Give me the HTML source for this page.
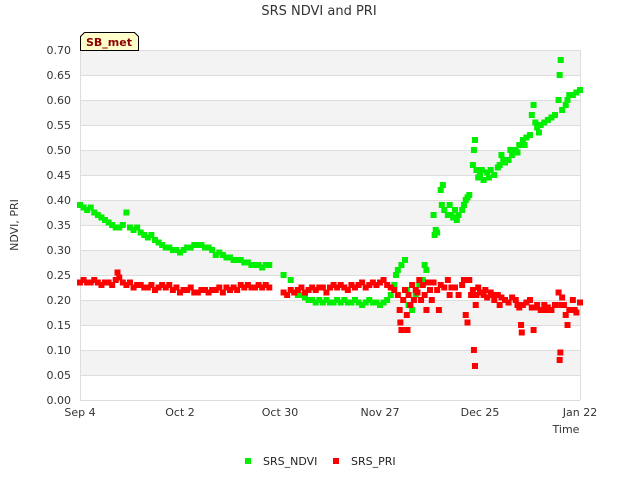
<!DOCTYPE html>
<html><head><meta charset="utf-8"><style>
html,body{margin:0;padding:0;background:#fff;}
svg{display:block;font-family:"DejaVu Sans","Liberation Sans",sans-serif;}
</style></head><body>
<svg id="chart" width="640" height="480" viewBox="0 0 640 480">
<text x="319" y="15" text-anchor="middle" font-size="13" fill="#333">SRS NDVI and PRI</text>
<g id="grid"></g>
<g id="yaxis"></g>
<g id="xaxis"></g>
<text transform="translate(18,225) rotate(-90)" text-anchor="middle" font-size="11" fill="#333">NDVI, PRI</text>
<text x="566" y="433" text-anchor="middle" font-size="11" fill="#333">Time</text>
<g id="ndvi" fill="#00ee00"></g>
<g id="pri" fill="#ff0000"></g>
<g>
<path d="M80.5,50.5 L80.5,36.5 L84.5,32.5 L134.5,32.5 L138.5,36.5 L138.5,50.5 Z" fill="#ffffcc" stroke="#000" stroke-width="1"/>
<text x="109" y="46" text-anchor="middle" font-size="11" font-weight="bold" fill="#8b0000">SB_met</text>
</g>
<g>
<rect x="245" y="458" width="6" height="6" fill="#00ee00"/>
<text x="263" y="465" font-size="11" fill="#222">SRS_NDVI</text>
</g>
<g>
<rect x="333" y="458" width="6" height="6" fill="#ff0000"/>
<text x="351" y="465" font-size="11" fill="#222">SRS_PRI</text>
</g>
</svg>
<script>
const yTicks = [0,0.05,0.1,0.15,0.2,0.25,0.3,0.35,0.4,0.45,0.5,0.55,0.6,0.65,0.7];
const xTickDays = [0,28,56,84,112,140];
const xTickLabels = ["Sep 4","Oct 2","Oct 30","Nov 27","Dec 25","Jan 22"];
const ndviDays = [0,1,2,3,4,5,6,7,8,9,10,11,12,13,14,15,16,17,18,19,20,21,22,23,24,25,26,27,28,29,30,31,32,33,34,35,36,37,38,39,40,41,42,43,44,45,46,47,48,49,50,51,52,53,
57,59,60,61,62,63,64,65,66,67,68,69,70,71,72,73,74,75,76,77,78,79,80,81,82,83,84,85,86,
87,88,88.5,89,90,91,91.5,92,93,94,95,96,96.5,97,
99,99.3,99.6,100,101,101.3,101.6,102,103,103.5,104,104.5,105,105.5,106,107,107.5,108,108.5,109,110,110.3,110.6,111,111.5,112,112.5,113,114,114.5,115,116,117,117.5,118,118.5,119,120,120.5,121,122,122.5,123,124,124.5,125,126,126.5,127,127.5,128,128.5,129,130,131,132,133,134,134.3,134.6,135,136,136.5,137,138,139,140];
const ndviValues = [.39,.385,.38,.385,.375,.37,.365,.36,.355,.35,.345,.345,.35,.375,.345,.34,.345,.335,.33,.325,.33,.32,.315,.31,.305,.305,.30,.30,.295,.30,.305,.305,.31,.31,.31,.305,.305,.30,.29,.295,.29,.285,.285,.28,.28,.28,.275,.275,.27,.27,.27,.265,.27,.27,
.25,.24,.215,.21,.21,.205,.20,.20,.195,.20,.195,.20,.195,.195,.20,.195,.20,.195,.195,.20,.195,.19,.195,.20,.195,.195,.19,.195,.20,
.21,.23,.25,.26,.27,.28,.22,.19,.18,.21,.23,.24,.27,.26,
.37,.33,.34,.335,.42,.39,.43,.38,.37,.39,.37,.365,.38,.36,.37,.38,.39,.40,.405,.41,.47,.50,.52,.46,.445,.45,.46,.44,.455,.445,.46,.45,.465,.47,.49,.48,.475,.48,.50,.49,.50,.495,.51,.52,.51,.525,.53,.57,.59,.555,.545,.535,.55,.555,.56,.565,.57,.60,.65,.68,.58,.59,.60,.61,.61,.615,.62];
const priDays = [0,1,2,3,4,5,6,7,8,9,10,10.5,11,12,13,14,15,16,17,18,19,20,21,22,23,24,25,26,27,28,29,30,31,32,33,34,35,36,37,38,39,40,41,42,43,44,45,46,47,48,49,50,51,52,53,
57,58,59,60,61,62,63,64,65,66,67,68,69,70,71,72,73,74,75,76,77,78,79,80,81,82,83,84,85,86,87,88,
89,89.5,89.7,90,90.5,91,91.5,91.7,92,92.5,93,93.5,94,94.5,95,95.5,96,96.5,97,97.5,98,98.5,99,100,100.5,101,102,103,103.5,104,105,106,107,107.5,108,108.5,109,109.5,110,110.3,110.6,110.8,111,111.5,112,113,113.5,114,115,115.5,116,117,117.5,118,119,120,121,122,122.5,123,123.5,123.7,124,125,126,126.5,127,127.5,128,129,130,130.5,131,132,133,134,134.3,134.5,134.7,135,135.5,136,136.5,137,138,138.5,139,140];
const priValues = [.235,.24,.235,.235,.24,.235,.23,.235,.235,.23,.24,.255,.245,.235,.23,.235,.225,.23,.23,.225,.225,.23,.22,.225,.23,.225,.23,.22,.225,.215,.22,.22,.225,.215,.215,.22,.22,.215,.22,.22,.225,.215,.225,.22,.225,.22,.23,.225,.23,.225,.225,.23,.225,.23,.225,
.215,.21,.22,.215,.22,.225,.215,.22,.225,.22,.225,.225,.215,.225,.23,.225,.23,.225,.22,.23,.225,.23,.235,.225,.23,.235,.23,.235,.24,.23,.225,.22,
.21,.18,.155,.14,.20,.22,.17,.14,.21,.19,.23,.20,.22,.215,.24,.20,.23,.21,.18,.235,.22,.20,.235,.22,.18,.23,.225,.24,.21,.225,.225,.21,.23,.24,.17,.155,.24,.21,.22,.10,.068,.19,.21,.225,.215,.21,.22,.205,.215,.21,.20,.21,.19,.205,.20,.195,.205,.20,.19,.185,.15,.135,.19,.195,.20,.185,.14,.185,.19,.18,.19,.18,.185,.18,.19,.215,.08,.095,.19,.205,.19,.17,.15,.18,.20,.18,.175,.195];

const X0=80,X1=580,Y0=400,Y1=50;
const xs=d=>X0+(d-0)/140*(X1-X0);
const ys=v=>Y0-(v/0.7)*(Y0-Y1);
const NS='http://www.w3.org/2000/svg';
function mk(t,a,p){const e=document.createElementNS(NS,t);for(const k in a)e.setAttribute(k,a[k]);p.appendChild(e);return e;}
const grid=document.getElementById('grid');
for(let i=0;i<yTicks.length-1;i++){
  const lo=yTicks[i],hi=yTicks[i+1];
  const r=mk('rect',{x:X0,y:ys(hi),width:X1-X0,height:ys(lo)-ys(hi),fill:(i%2===1)?'#f3f3f3':'#ffffff'},grid);
  
  
}
const ya=document.getElementById('yaxis');
yTicks.forEach(v=>{
  const l=mk('line',{x1:X0,x2:X1,y1:ys(v)+0.5,y2:ys(v)+0.5,stroke:'#dddddd','stroke-width':1},grid);
  
  
  const t=mk('text',{x:X0-9,y:ys(v)+4,'text-anchor':'end','font-size':11,fill:'#333'},ya);
  t.textContent=v.toFixed(2);
  
  
});
mk('line',{x1:X0+0.5,x2:X0+0.5,y1:Y1,y2:Y0,stroke:'#dddddd'},grid);
mk('line',{x1:X1+0.5,x2:X1+0.5,y1:Y1,y2:Y0,stroke:'#dddddd'},grid);
const xa=document.getElementById('xaxis');
xTickDays.forEach((d,i)=>{
  const t=mk('text',{x:xs(d),y:Y0+16,'text-anchor':'middle','font-size':11,fill:'#333'},xa);
  t.textContent=xTickLabels[i];
  
  
});
const gN=document.getElementById('ndvi');
ndviDays.forEach((d,i)=>{
  const r=mk('rect',{x:xs(d)-3,y:ys(ndviValues[i])-3,width:6,height:6},gN);
  
  
});
const gP=document.getElementById('pri');
priDays.forEach((d,i)=>{
  const r=mk('rect',{x:xs(d)-3,y:ys(priValues[i])-3,width:6,height:6},gP);
  
  
});
</script>
</body></html>
